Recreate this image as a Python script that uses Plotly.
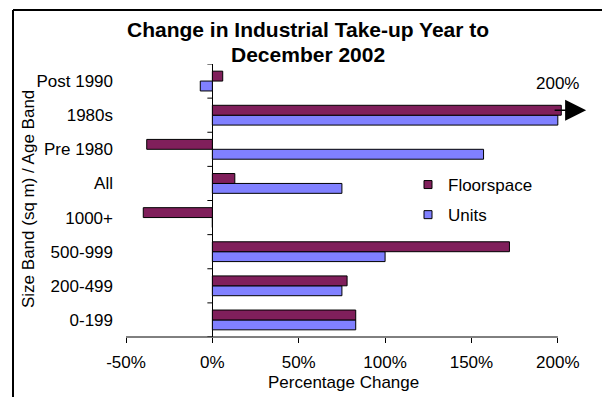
import plotly.graph_objects as go

categories = ["0-199", "200-499", "500-999", "1000+", "All", "Pre 1980", "1980s", "Post 1990"]
floorspace = [0.83, 0.78, 1.72, -0.40, 0.13, -0.38, 2.02, 0.06]
units = [0.83, 0.75, 1.00, 0.0, 0.75, 1.57, 2.00, -0.07]
tick_vals = [-0.5, 0.0, 0.5, 1.0, 1.5, 2.0]
tick_text = ["-50%", "0%", "50%", "100%", "150%", "200%"]

FLOOR_C = "#801F5B"
UNIT_C = "#8080FF"
FONT = "Liberation Sans, Arial, sans-serif"

W, H = 602, 397
L, R, T, B = 126, 39, 64, 60
pw, ph = W - L - R, H - T - B

def px_x(p):
    return (p - L) / pw

def px_y(p):
    return (H - B - p) / ph

fig = go.Figure()
fig.add_trace(go.Bar(y=categories, x=units, orientation="h", name="Units",
                     marker=dict(color=UNIT_C, line=dict(color="black", width=1)),
                     showlegend=False))
fig.add_trace(go.Bar(y=categories, x=floorspace, orientation="h", name="Floorspace",
                     marker=dict(color=FLOOR_C, line=dict(color="black", width=1)),
                     showlegend=False))
# legend entries
fig.add_trace(go.Scatter(x=[None], y=[None], mode="markers", name="Floorspace", legendgroup="f",
                         marker=dict(symbol="square", size=8, color=FLOOR_C, line=dict(color="black", width=1))))
fig.add_trace(go.Scatter(x=[None], y=[None], mode="markers", name="Units", legendgroup="u",
                         marker=dict(symbol="square", size=8, color=UNIT_C, line=dict(color="black", width=1))))

xmin, xmax = tick_vals[0], tick_vals[-1]
fig.update_layout(
    width=W, height=H,
    margin=dict(l=L, r=R, t=T, b=B, pad=0),
    paper_bgcolor="white", plot_bgcolor="white",
    barmode="group", bargap=0.42, bargroupgap=0,
    font=dict(family=FONT, size=17, color="black"),
    showlegend=True,
    legend=dict(x=px_x(408), y=px_y(167), xanchor="left", yanchor="top",
                traceorder="grouped", tracegroupgap=5, itemwidth=30,
                font=dict(size=17), bgcolor="rgba(0,0,0,0)"),
    xaxis=dict(range=[xmin, xmax + 0.03], tickvals=tick_vals, ticktext=tick_text,
               showgrid=False, showline=False, zeroline=True, zerolinecolor="black",
               zerolinewidth=1, ticks="outside", ticklen=5, tickcolor="black",
               ticklabelstandoff=5, tickfont=dict(size=17), fixedrange=True),
    yaxis=dict(categoryorder="array", categoryarray=categories, showgrid=False,
               showline=False, zeroline=False, ticks="", ticklabelstandoff=12,
               tickfont=dict(size=17), range=[-0.5, len(categories) - 0.5]),
)

shapes = []
# x axis line from first to last tick
shapes.append(dict(type="line", xref="x", yref="paper", x0=xmin, x1=xmax, y0=0, y1=0,
                   line=dict(color="black", width=1)))
# tick marks on the zero line at category boundaries
for i in range(len(categories) + 1):
    shapes.append(dict(type="line", xref="x", yref="y", xsizemode="pixel", xanchor=0,
                       x0=-5, x1=0, y0=i - 0.5, y1=i - 0.5,
                       line=dict(color="black", width=1)))
# outer frame (left and top edges)
fx, fy = px_x(13), px_y(10)
shapes.append(dict(type="line", xref="paper", yref="paper", x0=fx, x1=fx, y0=px_y(H + 5), y1=fy,
                   line=dict(color="black", width=2)))
shapes.append(dict(type="line", xref="paper", yref="paper", x0=fx, x1=px_x(W + 5), y0=fy, y1=fy,
                   line=dict(color="black", width=2)))
fig.update_layout(shapes=shapes)

idx80 = categories.index("1980s")
annotations = [
    dict(text="<b>Change in Industrial Take-up Year to</b>", xref="paper", yref="paper",
         x=px_x(308), y=px_y(29), xanchor="center", yanchor="middle", showarrow=False,
         font=dict(size=21)),
    dict(text="<b>December 2002</b>", xref="paper", yref="paper",
         x=px_x(308), y=px_y(55), xanchor="center", yanchor="middle", showarrow=False,
         font=dict(size=21)),
    dict(text="Percentage Change", xref="paper", yref="paper", x=px_x(343), y=px_y(382),
         xanchor="center", yanchor="middle", showarrow=False, font=dict(size=17)),
    dict(text="Size Band (sq m) / Age Band", xref="paper", yref="paper", x=px_x(28), y=px_y(199),
         xanchor="center", yanchor="middle", showarrow=False, textangle=-90, font=dict(size=17)),
    dict(text="200%", xref="x", yref="y", x=xmax, y=len(categories) - 1, yshift=-2,
         xanchor="center", yanchor="middle", showarrow=False, font=dict(size=17)),
    dict(text="", xref="x", yref="y", axref="x", ayref="y",
         x=xmax + 0.164, y=idx80 + 0.145, ax=xmax - 0.027, ay=idx80 + 0.145,
         showarrow=True, arrowhead=2, arrowsize=2.8, arrowwidth=1.5, arrowcolor="black",
         standoff=0, startstandoff=0),
]
fig.update_layout(annotations=annotations)

fig.write_html("out.html")
